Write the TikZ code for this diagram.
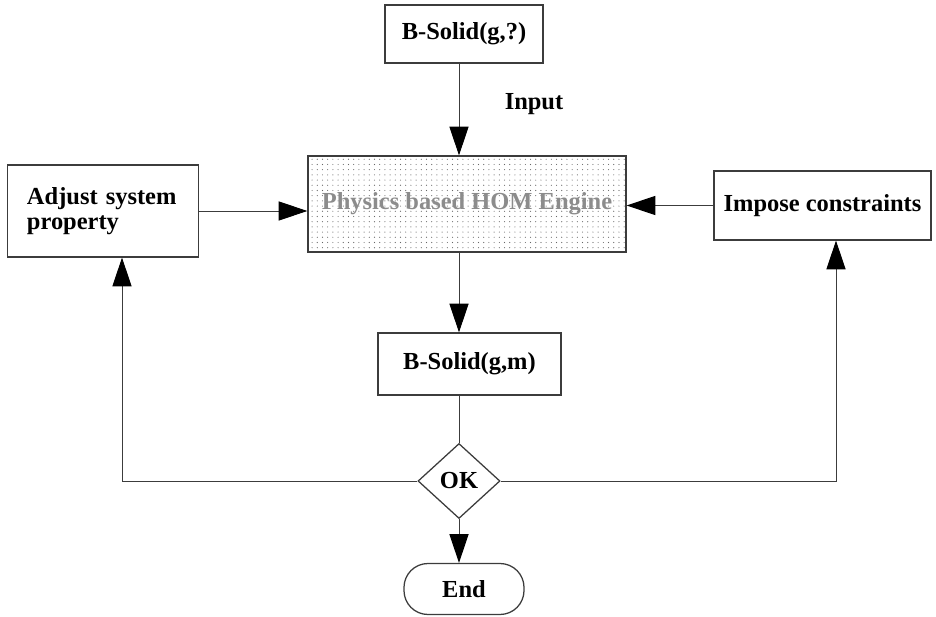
\documentclass[tikz,border=0pt]{standalone}
\usepackage{fontspec}
\setmainfont{Liberation Serif}
\usetikzlibrary{arrows.meta,shapes.geometric,patterns.meta}
\definecolor{LineGrey}  {RGB}{ 60,  60,  60}
\definecolor{EngineText}{RGB}{140, 140, 140}
\tikzset{
  box/.style={draw=LineGrey, line width=0.9pt, fill=white, inner sep=0pt,
              font=\fontsize{17.4}{18}\selectfont\bfseries},
  flow/.style={draw=LineGrey, line width=0.7pt,
               -{Triangle[length=7.2mm,width=4.8mm,black]}},
  link/.style={draw=LineGrey, line width=0.7pt},
}

\begin{document}
\begin{tikzpicture}[x=0.025cm, y=-0.025cm]
  \useasboundingbox (0,0) rectangle (936,617);
  % main column
  \node[box, minimum width=3.95cm, minimum height=1.45cm]
    (solidIn) at (464,34) {B-Solid(g,?)};
  \node[box, pattern={Dots[distance=1.3mm, radius=0.4pt]}, pattern color=black!60,
        text=EngineText, minimum width=7.95cm, minimum height=2.4cm]
    (engine) at (467,204) {Physics based HOM Engine};
  \node[box, minimum width=4.575cm, minimum height=1.55cm]
    (solidOut) at (469.5,364) {B-Solid(g,m)};
  \node[box, diamond, minimum width=2.05cm, minimum height=1.875cm]
    (ok) at (459,481) {OK};
  \node[box, rounded corners=0.6cm, minimum width=3cm, minimum height=1.275cm]
    (finish) at (464,589) {End};
  % side boxes
  \node[box, align=left, text width=3.8cm,
        minimum width=4.775cm, minimum height=2.3cm]
    (adjust) at (103,211) {Adjust system\\property};
  \node[box, minimum width=5.425cm, minimum height=1.725cm]
    (impose) at (822.5,205.5) {Impose constraints};
  \node[font=\fontsize{17.4}{18}\selectfont\bfseries]
    (inputLbl) at (534,104) {Input};

  \coordinate (spine)       at (459,0);
  \coordinate (leftReturn)  at (122,0);
  \coordinate (rightReturn) at (836,0);

  \draw[flow] (solidIn.south -| spine) -- (engine.north -| spine);
  \draw[flow] (engine.south -| spine) -- (solidOut.north -| spine);
  \draw[link] (solidOut.south -| spine) -- (ok.north);
  \draw[flow] (ok.south) -- (finish.north -| ok.south);
  \draw[flow] (adjust.east) -- (adjust.east -| engine.west);
  \draw[flow] (impose.west) -- (impose.west -| engine.east);
  % feedback loops
  \draw[flow] (ok.west) -| (adjust.south -| leftReturn);
  \draw[flow] (ok.east) -| (impose.south -| rightReturn);
\end{tikzpicture}
\end{document}
